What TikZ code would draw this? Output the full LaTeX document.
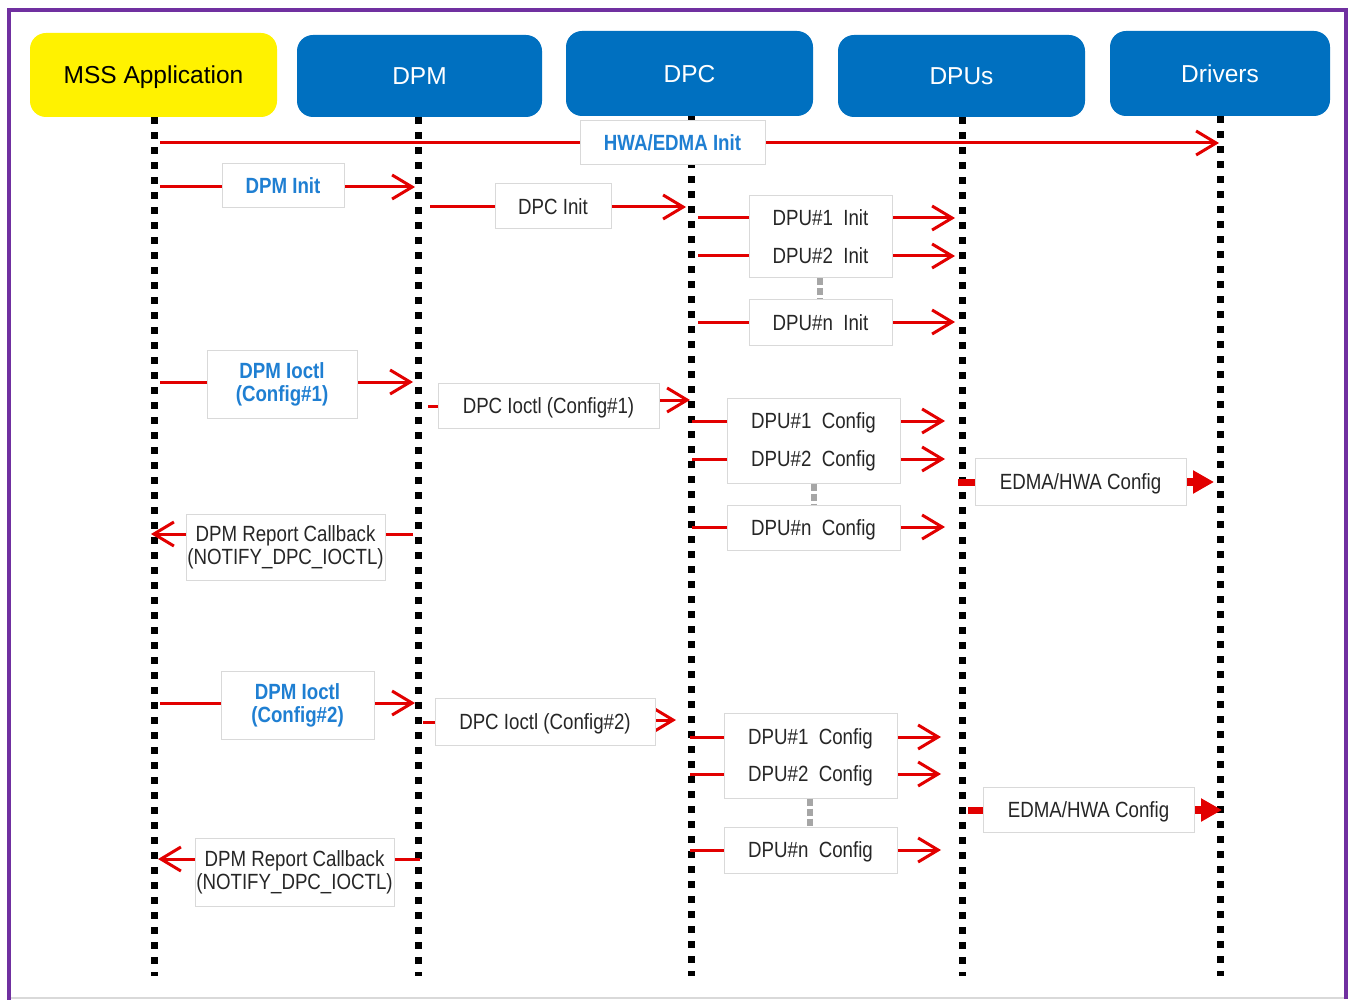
\documentclass[tikz,border=0pt]{standalone}
\usepackage{fontspec}
\setmainfont[FakeStretch=0.85]{Liberation Sans}
\newfontfamily\hdrfont{Liberation Sans}
\usetikzlibrary{arrows.meta,backgrounds}
\definecolor{tiblue}{HTML}{0070C0}
\definecolor{lblue}{RGB}{31,127,210}
\definecolor{msgred}{RGB}{226,0,0}
\definecolor{framecol}{HTML}{7030A0}
\definecolor{boxgray}{HTML}{D9D9D9}
\definecolor{txt}{HTML}{262626}
\definecolor{dotgray}{HTML}{A6A6A6}
\begin{document}
\begin{tikzpicture}[x=1pt,y=-1pt,
  hdr/.style={rounded corners=16pt, fill=tiblue, text=white, inner sep=0pt,
    font=\hdrfont\fontsize{24.5}{28}\selectfont, text height=17.5pt, text depth=0pt},
  lbl/.style={draw=boxgray, line width=1pt, fill=white, text=txt, inner sep=0pt,
    font=\fontsize{22}{23}\selectfont},
  one/.style={text height=15.8pt, text depth=0pt},
  two/.style={align=center},
  blu/.style={text=lblue, font=\bfseries\fontsize{22}{23}\selectfont},
  plain/.style={inner sep=0pt, text=txt, font=\fontsize{22}{23}\selectfont,
    text height=15.8pt, text depth=0pt},
  life/.style={line width=7pt, dash pattern=on 7pt off 8pt},
  msg/.style={draw=msgred, line width=3pt,
    -{Straight Barb[length=20pt,width=24pt]}},
  stub/.style={draw=msgred, line width=3pt},
  tstub/.style={draw=msgred, line width=7pt},
  tmsg/.style={draw=msgred, line width=8pt, -{Triangle[length=21pt,width=22pt]}},
  gdot/.style={draw=dotgray, line width=6pt, dash pattern=on 7pt off 3pt}
]
\useasboundingbox (0,0) rectangle (1349,1000);
% frame
\draw[boxgray, line width=1.5pt] (9,998) -- (1346,998);
\draw[framecol, line width=4pt] (9,1000) -- (9,10) -- (1346,10) -- (1346,999);

% headers
\node[hdr, fill=yellow, text=black, minimum width=247pt, minimum height=84pt] (mss) at (153.5,75) {MSS Application};
\node[hdr, minimum width=245pt, minimum height=82pt] (dpm) at (419.5,76) {DPM};
\node[hdr, minimum width=247pt, minimum height=85pt] (dpc) at (689.5,73.5) {DPC};
\node[hdr, minimum width=247pt, minimum height=82pt] (dpus) at (961.5,76) {DPUs};
\node[hdr, minimum width=220pt, minimum height=85pt] (drv) at (1220,73.5) {Drivers};

% lifeline ends
\coordinate (Lmss) at (154,976);
\coordinate (Ldpm) at (418,976);
\coordinate (Ldpc) at (691,976);
\coordinate (Ldpu) at (962,976);
\coordinate (Ldrv) at (1220,976);

% labels
\node[lbl, one, blu, minimum width=185pt, minimum height=44pt] (hwa) at (672.5,143) {HWA/EDMA Init};
\node[lbl, one, blu, minimum width=122pt, minimum height=44pt] (dpminit) at (283,186) {DPM Init};
\node[lbl, one, minimum width=116pt, minimum height=45pt] (dpcinit) at (553,206.5) {DPC Init};
\node[lbl, minimum width=143pt, minimum height=82pt] (dpuinit) at (820.5,237) {};
\node[plain] (t1i) at (820.5,218) {DPU\#1\ \ Init};
\node[plain] (t2i) at (820.5,256) {DPU\#2\ \ Init};
\node[lbl, one, minimum width=143pt, minimum height=45pt] (dpuninit) at (820.5,322.5) {DPU\#n\ \ Init};

\node[lbl, two, blu, minimum width=150pt, minimum height=68pt] (dpmio1) at (282,384.5) {DPM Ioctl\\(Config\#1)};
\node[lbl, one, minimum width=221pt, minimum height=45pt] (dpcio1) at (548.5,405.5) {DPC Ioctl (Config\#1)};
\node[lbl, minimum width=173pt, minimum height=85pt] (dpucfg1) at (813.5,440.5) {};
\node[plain] (t1c) at (813.5,421) {DPU\#1\ \ Config};
\node[plain] (t2c) at (813.5,459) {DPU\#2\ \ Config};
\node[lbl, one, minimum width=173pt, minimum height=45pt] (dpuncfg1) at (813.5,527.5) {DPU\#n\ \ Config};
\node[lbl, one, minimum width=211pt, minimum height=47pt] (edma1) at (1080.5,481.5) {EDMA/HWA Config};
\node[lbl, two, minimum width=199pt, minimum height=66pt] (cb1) at (285.5,547) {DPM Report Callback\\(NOTIFY\_DPC\_IOCTL)};

\node[lbl, two, blu, minimum width=153pt, minimum height=68pt] (dpmio2) at (297.5,705) {DPM Ioctl\\(Config\#2)};
\node[lbl, one, minimum width=220pt, minimum height=47pt] (dpcio2) at (545,721.5) {DPC Ioctl (Config\#2)};
\node[lbl, minimum width=173pt, minimum height=85pt] (dpucfg2) at (810.5,755.5) {};
\node[plain] (t1d) at (810.5,737) {DPU\#1\ \ Config};
\node[plain] (t2d) at (810.5,774) {DPU\#2\ \ Config};
\node[lbl, one, minimum width=173pt, minimum height=46pt] (dpuncfg2) at (810.5,850) {DPU\#n\ \ Config};
\node[lbl, one, minimum width=211pt, minimum height=45pt] (edma2) at (1088.5,809.5) {EDMA/HWA Config};
\node[lbl, two, minimum width=199pt, minimum height=68pt] (cb2) at (294.5,872) {DPM Report Callback\\(NOTIFY\_DPC\_IOCTL)};

% message end points
\coordinate (a1) at (160,143);  \coordinate (b1) at (1219,143);
\coordinate (a2) at (160,187);  \coordinate (b2) at (415,187);
\coordinate (a3) at (430,207);  \coordinate (b3) at (686,207);
\coordinate (a4) at (698,218);  \coordinate (b4) at (955,218);
\coordinate (a5) at (698,256);  \coordinate (b5) at (955,256);
\coordinate (a6) at (698,322);  \coordinate (b6) at (955,322);
\coordinate (a7) at (160,382);  \coordinate (b7) at (413,382);
\coordinate (a8) at (428,406);  \coordinate (b8) at (690,400);
\coordinate (a9) at (692,421);  \coordinate (b9) at (945,421);
\coordinate (a10) at (692,459); \coordinate (b10) at (945,459);
\coordinate (a11) at (692,527); \coordinate (b11) at (945,527);
\coordinate (a12) at (958,482); \coordinate (b12) at (1214,482);
\coordinate (a13) at (413,534); \coordinate (b13) at (151,534);
\coordinate (a14) at (160,703); \coordinate (b14) at (415,703);
\coordinate (a15) at (423,722); \coordinate (b15) at (676,720);
\coordinate (a16) at (690,737); \coordinate (b16) at (941,737);
\coordinate (a17) at (690,774); \coordinate (b17) at (941,774);
\coordinate (a18) at (690,850); \coordinate (b18) at (941,850);
\coordinate (a19) at (968,810); \coordinate (b19) at (1222,810);
\coordinate (a20) at (420,859); \coordinate (b20) at (158,859);

\begin{pgfonlayer}{background}
  \draw[life] (mss.south -| Lmss) -- (Lmss);
  \draw[life] (dpm.south -| Ldpm) -- (Ldpm);
  \draw[life] (dpc.south -| Ldpc) -- (Ldpc);
  \draw[life] (dpus.south -| Ldpu) -- (Ldpu);
  \draw[life] (drv.south -| Ldrv) -- (Ldrv);

  \draw[msg] (a1) -- (b1);
  \draw[msg] (a2) -- (b2);
  \draw[msg] (a3) -- (b3);
  \draw[msg] (a4) -- (b4);
  \draw[msg] (a5) -- (b5);
  \draw[msg] (a6) -- (b6);
  \draw[msg] (a7) -- (b7);
  \draw[stub] (a8) -- (dpcio1.west |- a8);
  \draw[msg] (dpcio1.east |- b8) -- (b8);
  \draw[msg] (a9) -- (b9);
  \draw[msg] (a10) -- (b10);
  \draw[msg] (a11) -- (b11);
  \draw[tstub] (a12) -- (edma1.west |- a12);
  \draw[tmsg] (edma1.east |- b12) -- (b12);
  \draw[msg] (a13) -- (b13);
  \draw[msg] (a14) -- (b14);
  \draw[stub] (a15) -- (dpcio2.west |- a15);
  \draw[msg] (dpcio2.east |- b15) -- (b15);
  \draw[msg] (a16) -- (b16);
  \draw[msg] (a17) -- (b17);
  \draw[msg] (a18) -- (b18);
  \draw[tstub] (a19) -- (edma2.west |- a19);
  \draw[tmsg] (edma2.east |- b19) -- (b19);
  \draw[msg] (a20) -- (b20);
\end{pgfonlayer}

\draw[gdot] (dpuinit.south -| 820,0) -- (dpuninit.north -| 820,0);
\draw[gdot] (dpucfg1.south -| 814,0) -- (dpuncfg1.north -| 814,0);
\draw[gdot] (dpucfg2.south -| 810,0) -- (dpuncfg2.north -| 810,0);
\end{tikzpicture}
\end{document}
